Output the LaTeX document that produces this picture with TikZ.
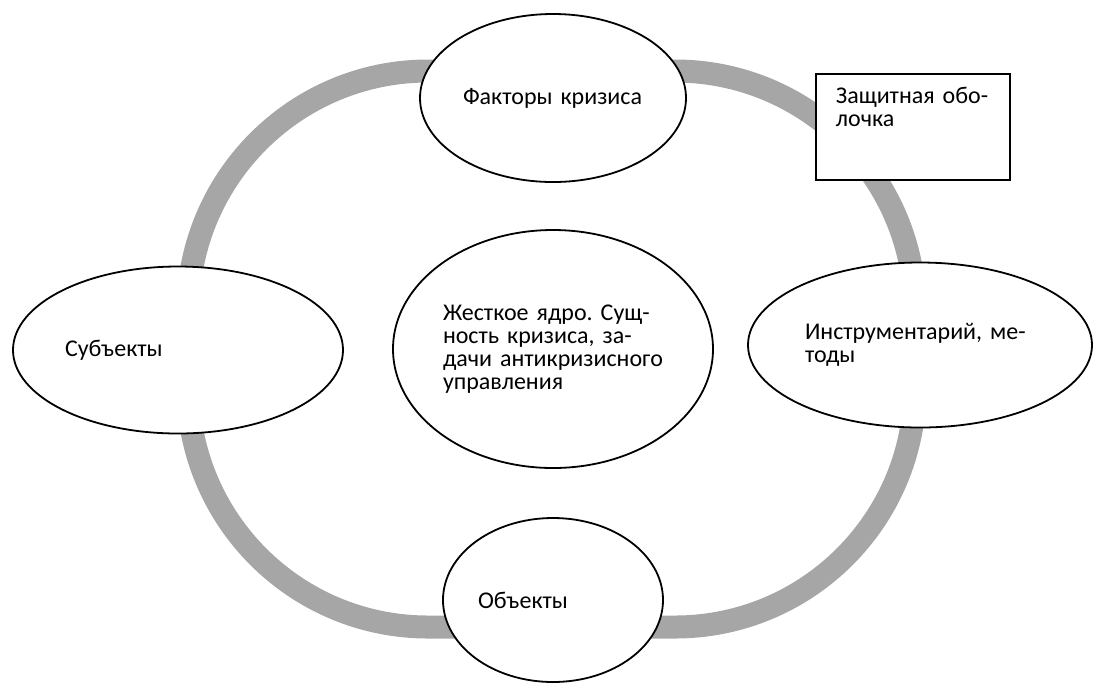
\documentclass[tikz,border=0pt]{standalone}
\usepackage{fontspec}
\setmainfont{Carlito}
\usetikzlibrary{shapes.geometric}
\definecolor{anillo}{RGB}{166,166,166}
\frenchspacing
\begin{document}
\begin{tikzpicture}[x=0.5pt,y=-0.5pt]
	\tikzset{elipse/.style={draw,ellipse,fill=white,line width=0.9pt,inner sep=0pt,align=left,font=\fontsize{12}{11.5}\selectfont},
		recuadro/.style={draw,rectangle,fill=white,line width=0.9pt,align=left,font=\fontsize{12}{11.5}\selectfont}}
	\useasboundingbox (0,0) rectangle (1093,682);
	\draw[anillo,line width=11.5pt,rounded corners=120pt] (188,71) rectangle (915,627);
	\node[elipse,minimum width=133pt,minimum height=84pt,text width=90pt] (F) at (553,98) {Факторы кризиса};
	\node[elipse,minimum width=160pt,minimum height=119pt,text width=110pt] (N) at (553,349) {Жесткое ядро. Сущ-\\ность кризиса, за-\\дачи антикризисного\\управления};
	\node[elipse,minimum width=165pt,minimum height=83.5pt,text width=113pt] (S) at (178,350) {Субъекты};
	\node[elipse,minimum width=172pt,minimum height=82.5pt,text width=115pt] (I) at (920,345) {Инструментарий, ме-\\тоды};
	\node[elipse,minimum width=110pt,minimum height=82pt,text width=75pt] (O) at (553,600) {Объекты};
	\node[recuadro,anchor=north west,text width=77pt,inner xsep=10pt,inner ysep=0pt,text height=15pt,text depth=38pt] (R) at (815,73) {Защитная обо-\\лочка};
\end{tikzpicture}
\end{document}
